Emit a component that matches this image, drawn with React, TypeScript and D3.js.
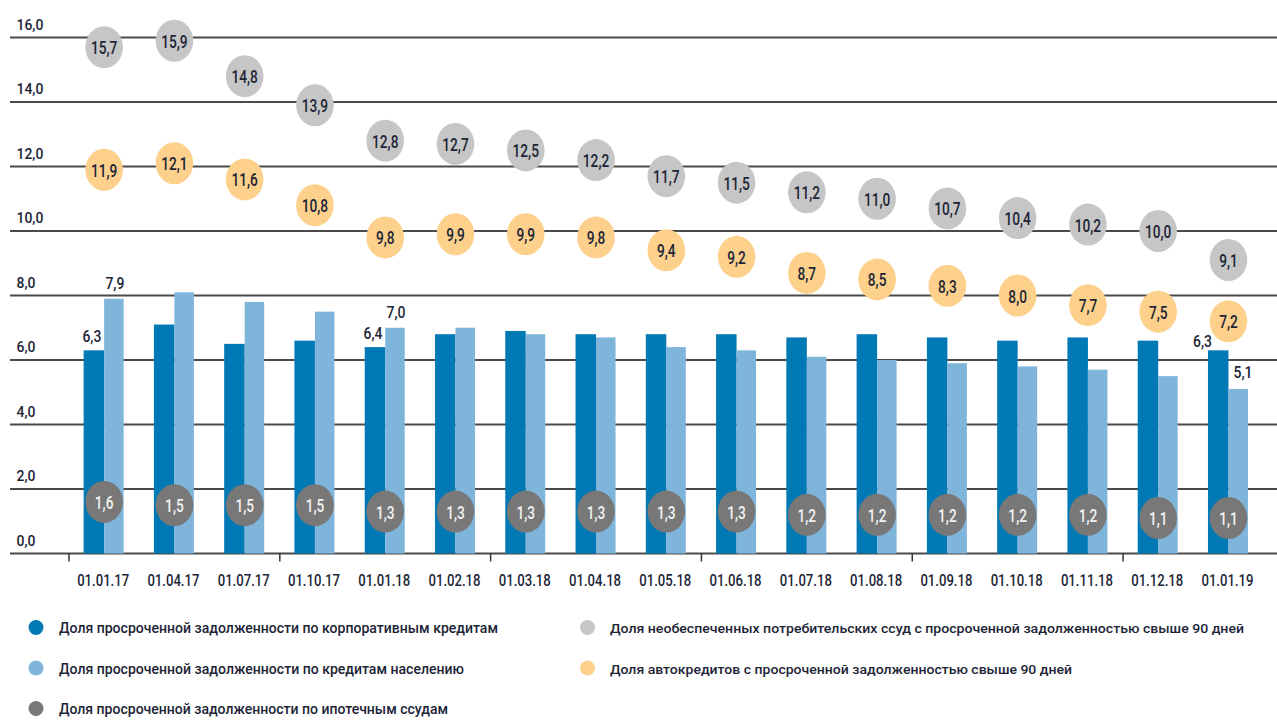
import React from 'react';
import * as d3 from 'd3';

const categories = ['01.01.17','01.04.17','01.07.17','01.10.17','01.01.18','01.02.18','01.03.18','01.04.18','01.05.18','01.06.18','01.07.18','01.08.18','01.09.18','01.10.18','01.11.18','01.12.18','01.01.19'];
const corporate = [6.3,7.1,6.5,6.6,6.4,6.8,6.9,6.8,6.8,6.8,6.7,6.8,6.7,6.6,6.7,6.6,6.3];
const retail = [7.9,8.1,7.8,7.5,7.0,7.0,6.8,6.7,6.4,6.3,6.1,6.0,5.9,5.8,5.7,5.5,5.1];
const unsecured = [15.7,15.9,14.8,13.9,12.8,12.7,12.5,12.2,11.7,11.5,11.2,11.0,10.7,10.4,10.2,10.0,9.1];
const autoLoans = [11.9,12.1,11.6,10.8,9.8,9.9,9.9,9.8,9.4,9.2,8.7,8.5,8.3,8.0,7.7,7.5,7.2];
const mortgage = [1.6,1.5,1.5,1.5,1.3,1.3,1.3,1.3,1.3,1.3,1.2,1.2,1.2,1.2,1.2,1.1,1.1];
const yTicks = [0,2,4,6,8,10,12,14,16];
const labeledBars = ['01.01.17','01.01.18','01.01.19'];
const tickEvery = 3;

const legendLeft = [
  { name: 'Доля просроченной задолженности по корпоративным кредитам', color: '#0079B4' },
  { name: 'Доля просроченной задолженности по кредитам населению', color: '#7FB5DB' },
  { name: 'Доля просроченной задолженности по ипотечным ссудам', color: '#787878' },
];
const legendRight = [
  { name: 'Доля необеспеченных потребительских ссуд с просроченной задолженностью свыше 90 дней', color: '#C6C6C6' },
  { name: 'Доля автокредитов с просроченной задолженностью свыше 90 дней', color: '#FDD08C' },
];
const legendLeftWidths = [439, 405, 389];
const legendRightWidths = [634, 462];

const FONT = 'Roboto, "Noto Sans", sans-serif';
const TEXT = '#1c2536';

const fmt = (v: number) => d3.format('.1f')(v).replace('.', ',');

function CText({ x, y, sx = 1, size, anchor = 'middle', fill = TEXT, weight = 500, children }: any) {
  return (
    <text
      transform={`translate(${x},${y}) scale(${sx},1)`}
      textAnchor={anchor}
      fontFamily={FONT}
      fontSize={size}
      fontWeight={weight}
      fill={fill}
    >
      {children}
    </text>
  );
}

export default function App() {
  const W = 1277, H = 722;
  const x = d3.scaleBand<string>().domain(categories).range([69, 1263.6]).padding(0);
  const y = d3.scaleLinear().domain([0, 16]).range([553.5, 37.5]);
  const cx = (c: string) => (x(c) as number) + x.bandwidth() / 2;
  const darkW = 20.5, lightW = 19.5;
  const rx = 18.8, ry = 21;

  const boundaries = categories.map((c, i) => i).filter(i => i % tickEvery === 0);

  return (
    <svg width={W} height={H} style={{ position: 'absolute', left: 0, top: 0, background: '#fff' }}>
      {/* grid lines */}
      {yTicks.map(t => (
        <line key={t} x1={10} x2={W} y1={y(t)} y2={y(t)} stroke="#4a4a4a" strokeWidth={2.2} />
      ))}
      {yTicks.map(t => (
        <CText key={'yl' + t} x={16.5} y={y(t) - 8} sx={0.9} size={15.5} anchor="start">{fmt(t)}</CText>
      ))}
      {/* ticks */}
      {boundaries.map(i => (
        <line key={'tk' + i} x1={(x(categories[i]) as number)} x2={(x(categories[i]) as number)} y1={y(0)} y2={y(0) + 8} stroke="#333" strokeWidth={1.5} />
      ))}
      {/* bars */}
      {categories.map((c, i) => (
        <g key={'b' + c}>
          <rect x={cx(c) - darkW} y={y(corporate[i])} width={darkW} height={y(0) - y(corporate[i])} fill="#0079B4" />
          <rect x={cx(c)} y={y(retail[i])} width={lightW} height={y(0) - y(retail[i])} fill="#7FB5DB" />
        </g>
      ))}
      {/* unsecured consumer loans circles */}
      {categories.map((c, i) => (
        <g key={'u' + c}>
          <ellipse cx={cx(c)} cy={y(unsecured[i])} rx={rx} ry={ry} fill="#C6C6C6" />
          <CText x={cx(c)} y={y(unsecured[i]) + 7} sx={0.72} size={19}>{fmt(unsecured[i])}</CText>
        </g>
      ))}
      {/* auto loans circles */}
      {categories.map((c, i) => (
        <g key={'a' + c}>
          <ellipse cx={cx(c)} cy={y(autoLoans[i])} rx={rx} ry={ry} fill="#FDD08C" />
          <CText x={cx(c)} y={y(autoLoans[i]) + 7} sx={0.72} size={19}>{fmt(autoLoans[i])}</CText>
        </g>
      ))}
      {/* mortgage circles */}
      {categories.map((c, i) => (
        <g key={'m' + c}>
          <ellipse cx={cx(c)} cy={y(mortgage[i])} rx={rx} ry={ry} fill="#787878" />
          <CText x={cx(c)} y={y(mortgage[i]) + 7} sx={0.72} size={19} fill="#f2f2f2">{fmt(mortgage[i])}</CText>
        </g>
      ))}
      {/* bar value labels (drawn above circles) */}
      {categories.map((c, i) => {
        if (!labeledBars.includes(c)) return null;
        const last = i === categories.length - 1;
        return (
          <g key={'bl' + c}>
            {last ? (
              <CText x={cx(c) - 16.5} y={y(corporate[i]) - 3.5} sx={0.82} size={17} anchor="end">{fmt(corporate[i])}</CText>
            ) : (
              <CText x={cx(c) - darkW / 2 - 2} y={y(corporate[i]) - 8} sx={0.82} size={17}>{fmt(corporate[i])}</CText>
            )}
            {last ? (
              <CText x={cx(c) + 5} y={y(retail[i]) - 11.5} sx={0.82} size={17} anchor="start">{fmt(retail[i])}</CText>
            ) : (
              <CText x={cx(c) + lightW / 2 + 1} y={y(retail[i]) - 9.5} sx={0.82} size={17}>{fmt(retail[i])}</CText>
            )}
          </g>
        );
      })}
      {/* x labels */}
      {categories.map(c => (
        <CText key={'xl' + c} x={cx(c) - 1} y={586} sx={0.82} size={16}>{c}</CText>
      ))}
      {/* legend */}
      {legendLeft.map((d, i) => (
        <g key={'ll' + i}>
          <circle cx={36} cy={627.5 + i * 40.5} r={7.5} fill={d.color} />
          <text x={59} y={627.5 + i * 40.5 + 5.5} fontFamily={FONT} fontSize={14.5} fontWeight={500} fill={TEXT}
            textLength={legendLeftWidths[i]} lengthAdjust="spacingAndGlyphs">{d.name}</text>
        </g>
      ))}
      {legendRight.map((d, i) => (
        <g key={'lr' + i}>
          <circle cx={587.5} cy={627.5 + i * 40.5} r={7.5} fill={d.color} />
          <text x={610} y={627.5 + i * 40.5 + 5.5} fontFamily={FONT} fontSize={13.5} fontWeight={500} fill={TEXT}
            textLength={legendRightWidths[i]} lengthAdjust="spacingAndGlyphs">{d.name}</text>
        </g>
      ))}
    </svg>
  );
}
